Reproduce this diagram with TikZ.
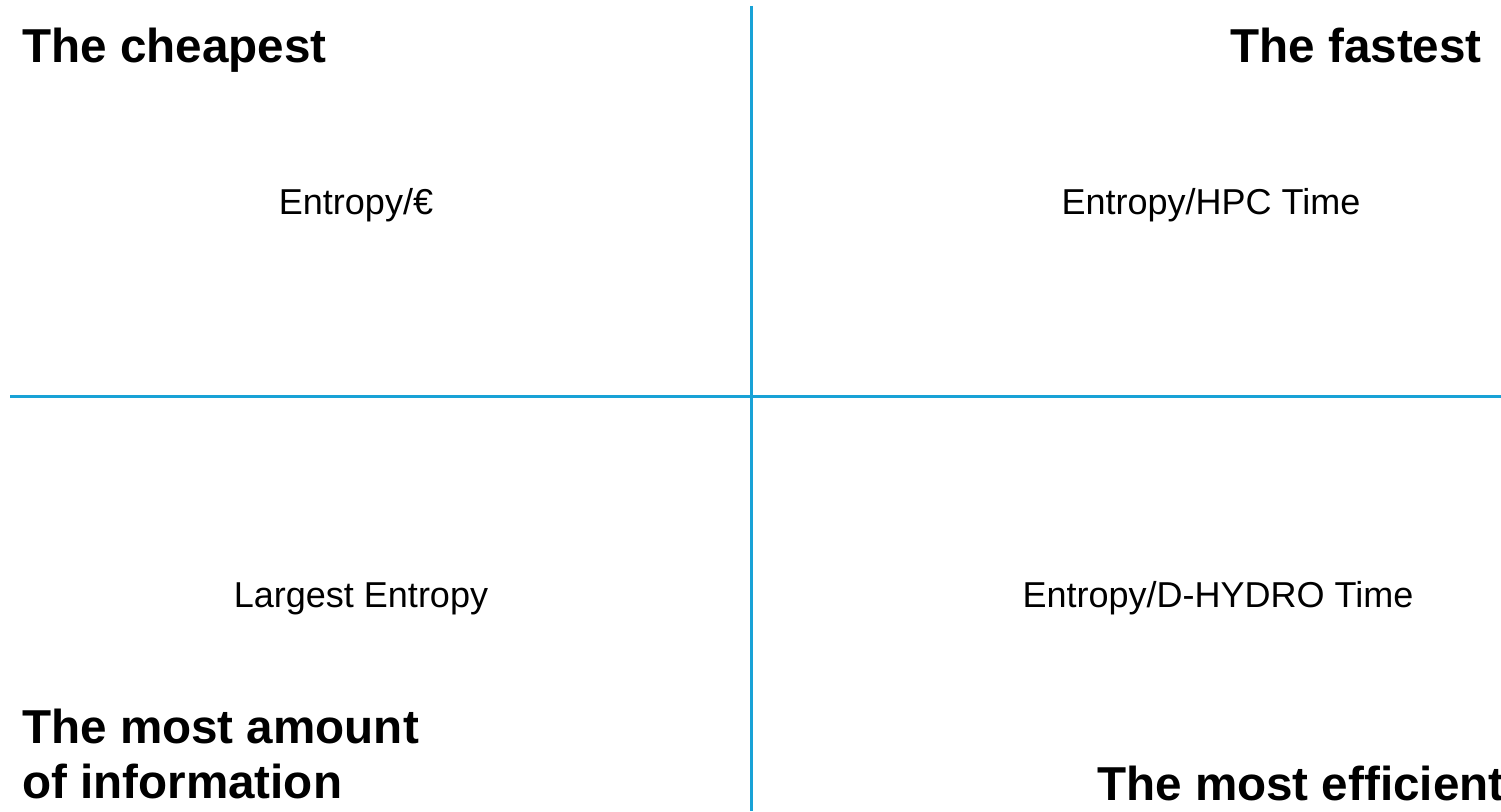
\documentclass[tikz,border=0pt]{standalone}
\usepackage{fontspec}
\setmainfont{Liberation Sans}
\definecolor{divider}{RGB}{24,162,214}
\begin{document}
\begin{tikzpicture}[x=1bp,y=-1bp,
  title/.style={font=\fontsize{47.6bp}{55bp}\selectfont\bfseries, inner sep=0pt, align=left},
  metric/.style={font=\fontsize{36bp}{42bp}\selectfont, inner sep=0pt},
  divline/.style={draw=divider, line width=2.6bp}]
\useasboundingbox (0,0) rectangle (1501,811);
% quadrant dividers
\coordinate (vtop) at (751.5,6);
\coordinate (vbot) at (751.5,811);
\coordinate (hleft) at (10,396.5);
\coordinate (hright) at (1501,396.5);
\draw[divline] (vtop) -- (vbot);
\draw[divline] (hleft) -- (hright);
% quadrant titles
\node[title, anchor=base west] (cheap) at (22,63) {The cheapest};
\node[title, anchor=base east] (fast) at (1482,63) {The fastest};
\node[title, anchor=base west] (info) at (22,798) {The most amount\\of information};
\node[title, anchor=base west] (eff) at (1097,800) {The most efficient};
% metrics
\node[metric, anchor=base] (euro) at (356,214) {Entropy/€};
\node[metric, anchor=base] (hpc) at (1211,214) {Entropy/HPC Time};
\node[metric, anchor=base] (largest) at (361,607) {Largest Entropy};
\node[metric, anchor=base] (dhydro) at (1218,607) {Entropy/D-HYDRO Time};
\end{tikzpicture}
\end{document}
